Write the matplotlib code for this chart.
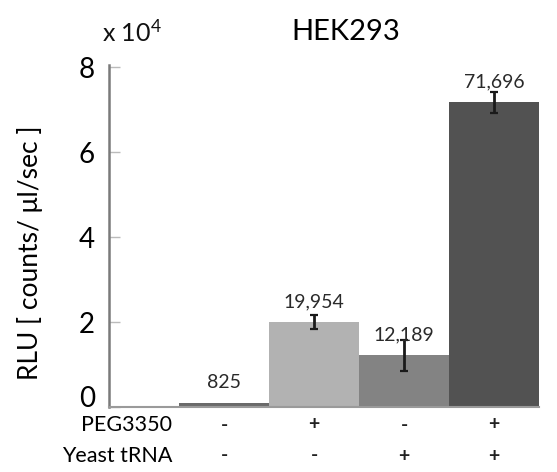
import matplotlib
matplotlib.use("Agg")
import matplotlib.pyplot as plt
import numpy as np

# Luciferase readout per condition (counts / µl / sec)
conditions = ["ctrl", "PEG", "tRNA", "PEG+tRNA"]
rlu_values = [825, 19954, 12189, 71696]
rlu_errors = [0, 1650, 3600, 2500]
peg_marks = ["-", "+", "-", "+"]
trna_marks = ["-", "-", "+", "+"]
bar_colors = ["#6a6a6a", "#b2b2b2", "#838383", "#525252"]
y_ticks = [0, 2, 4, 6, 8]

plt.rcParams["font.family"] = ["Lato", "DejaVu Sans"]
plt.rcParams["mathtext.fontset"] = "custom"
plt.rcParams["mathtext.rm"] = "Lato"
plt.rcParams["mathtext.it"] = "Lato"

fig = plt.figure(figsize=(5.57, 4.72), dpi=100)
ax = fig.add_axes([109 / 557, 1 - 407 / 472, 430 / 557, 342 / 472])

scale = 1e4
x = np.arange(len(conditions))
vals = np.array(rlu_values) / scale
errs = np.array(rlu_errors) / scale

ax.bar(x, vals, width=1.0, color=bar_colors, edgecolor="none", zorder=2)
for xi, v, e in zip(x, vals, errs):
    if e > 0:
        ax.errorbar(xi, v, yerr=e, fmt="none", ecolor="#1a1a1a",
                    elinewidth=2.0, capsize=3, capthick=1.6, zorder=3)

for xi, v, raw in zip(x, vals, rlu_values):
    ax.annotate(f"{raw:,}", (xi, v), xytext=(0, 15), textcoords="offset points",
                ha="center", va="center", fontsize=14, color="#2a2a2a", zorder=4)

ax.set_xlim(-1.28, 3.5)
ax.set_ylim(0, 8.05)
ax.set_yticks(y_ticks)
ax.set_yticklabels([str(t) for t in y_ticks], fontsize=20, color="#000000")
ax.tick_params(axis="y", direction="in", length=8, width=1, color="#bbbbbb", pad=10)
ax.get_yticklabels()[0].set_verticalalignment("baseline")
ax.set_xticks([])

for side in ("top", "right"):
    ax.spines[side].set_visible(False)
ax.spines["left"].set_color("#7a7a7a")
ax.spines["left"].set_linewidth(1.8)
ax.spines["bottom"].set_color("#9a9a9a")
ax.spines["bottom"].set_linewidth(1.5)

# condition rows under the bars
row_y = [-18 / 342, -49 / 342]
row_names = ["PEG3350", "Yeast tRNA"]
for ry, name, marks in zip(row_y, row_names, [peg_marks, trna_marks]):
    ax.text(63 / 430, ry, name, transform=ax.transAxes, ha="right", va="center",
            fontsize=15.5, color="#000000")
    for xi, m in zip(x, marks):
        ax.text(xi, ry, m, transform=ax.get_xaxis_transform(), ha="center",
                va="center", fontsize=14, fontweight="bold", color="#222222")

fig.text(30 / 557, 1 - 253 / 472, "RLU [ counts/ μl/sec ]", rotation=90,
         ha="center", va="center", fontsize=19, color="#000000")
fig.text(102 / 557, 1 - 32 / 472, r"x 10$^4$", ha="left", va="center",
         fontsize=18, color="#111111")
fig.text(346 / 557, 1 - 32 / 472, "HEK293", ha="center", va="center",
         fontsize=21, color="#000000")

fig.savefig("out.png", dpi=100)
